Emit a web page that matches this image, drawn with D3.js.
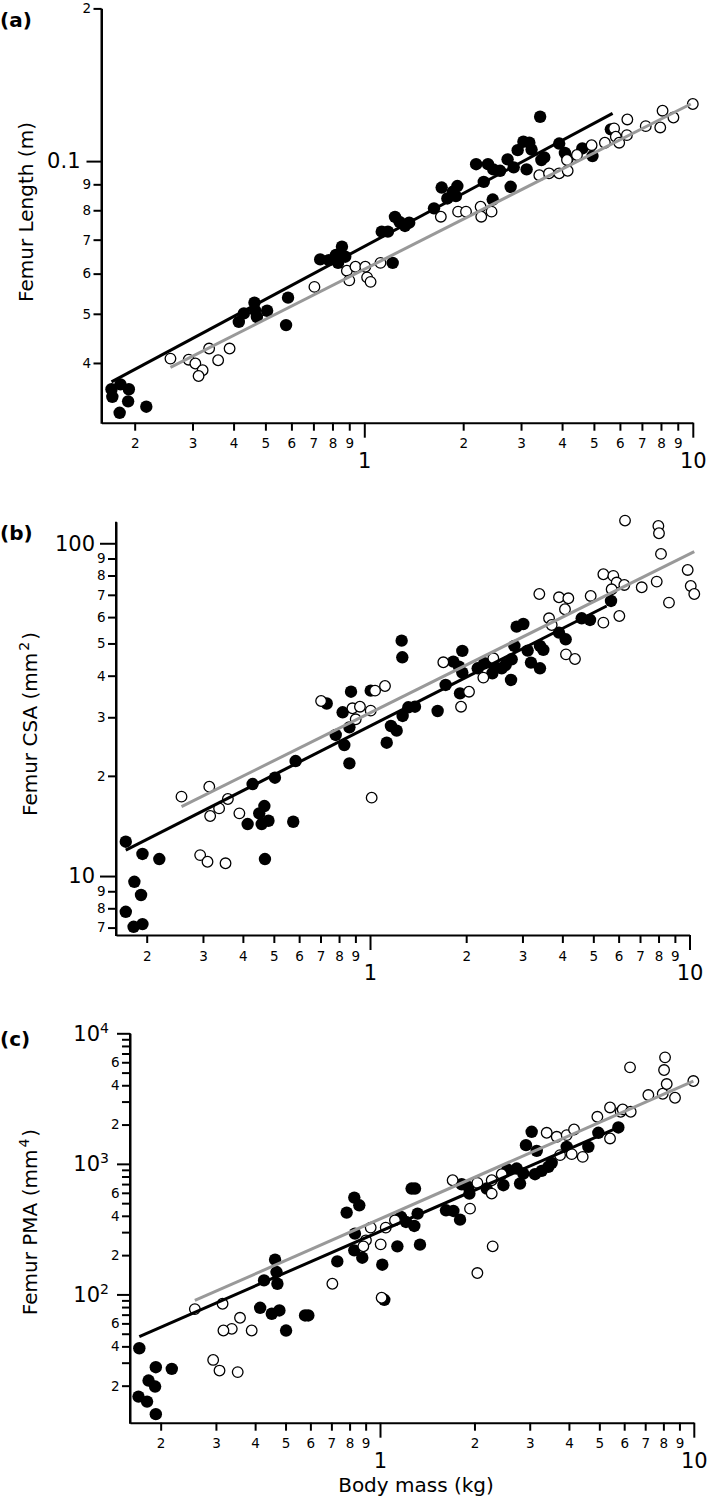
<!DOCTYPE html>
<html><head><meta charset="utf-8">
<script src="https://cdn.jsdelivr.net/npm/d3@7"></script>
<style>
body{margin:0;background:#fff}
svg{display:block}
text{font-family:"DejaVu Sans",sans-serif;fill:#000}
</style></head><body>
<svg id="chart" width="709" height="1503"></svg>
<script>
// ---------- DATA ----------
// Panel (a): Femur length (m) vs body mass (kg)
const aBlackMass = [0.170,0.171,0.181,0.192,0.191,0.180,0.217,0.415,0.430,0.463,0.465,0.471,0.506,0.586,0.578,0.734,0.780,0.820,0.855,0.832,0.875,1.13,1.18,1.22,1.24,1.28,1.33,1.37,1.63,1.72,1.79,1.86,1.92,1.90,2.19,2.31,2.38,2.47,2.59,2.46,2.73,2.79,2.85,2.93,3.05,3.18,3.23,3.12,3.46,3.53,3.43,3.92,4.08,4.16,4.61,4.95,5.63];
const aBlackLen  = [0.0355,0.0343,0.0363,0.0355,0.0336,0.0319,0.0328,0.0482,0.0501,0.0526,0.0508,0.0493,0.0507,0.0538,0.0475,0.0640,0.0638,0.0653,0.0678,0.0630,0.0648,0.0726,0.0726,0.0630,0.0776,0.0759,0.0745,0.0756,0.0807,0.0887,0.0844,0.0870,0.0893,0.0853,0.0986,0.0910,0.0986,0.0963,0.0957,0.0840,0.1008,0.0890,0.0972,0.1051,0.1092,0.1087,0.1054,0.0963,0.1005,0.1017,0.1223,0.1083,0.1038,0.1012,0.1059,0.1023,0.1155];
const aWhiteMass = [0.257,0.292,0.306,0.322,0.313,0.337,0.359,0.389,0.705,0.885,0.940,0.900,1.007,1.02,1.045,1.12,1.71,1.93,2.04,2.26,2.27,2.44,3.41,3.65,3.92,4.16,4.14,4.44,4.92,5.40,5.76,5.83,5.97,6.30,6.32,7.19,7.96,8.09,8.73,10.0];
const aWhiteLen  = [0.0408,0.0406,0.0399,0.0387,0.0377,0.0427,0.0405,0.0427,0.0565,0.0608,0.0619,0.0582,0.0619,0.0590,0.0578,0.0630,0.0777,0.0795,0.0795,0.0813,0.0777,0.0795,0.0938,0.0946,0.0946,0.0957,0.1005,0.1028,0.1075,0.1087,0.1160,0.1117,0.1087,0.1125,0.1208,0.1172,0.1165,0.1257,0.1219,0.1296];
const aBlackFitMass = [0.170, 5.70], aBlackFitLen = [0.0367, 0.1242];
const aGreyFitMass  = [0.257, 9.86], aGreyFitLen  = [0.0392, 0.1296];

// Panel (b): Femur CSA (mm^2)
const bBlackMass = [0.172,0.194,0.219,0.183,0.192,0.172,0.182,0.194,0.429,0.504,0.585,0.414,0.450,0.467,0.458,0.481,0.469,0.575,0.732,0.821,0.872,0.862,0.781,0.831,0.862,1.005,1.128,1.163,1.212,1.256,1.262,1.265,1.318,1.383,1.628,1.725,1.823,1.899,1.945,1.945,1.913,2.173,2.280,2.415,2.450,2.583,2.659,2.763,2.776,2.830,2.877,3.019,3.115,3.19,3.404,3.404,3.487,3.904,4.097,4.598,4.882,5.68];
const bBlackCSA  = [12.68,11.65,11.25,9.61,8.77,7.81,7.04,7.17,18.9,19.75,22.16,14.33,15.43,16.23,14.33,14.66,11.25,14.56,33.0,31.05,35.8,27.98,26.54,24.76,21.81,36.07,25.16,28.24,27.35,50.97,45.43,30.27,32.14,32.28,31.33,37.51,44.1,42.6,47.48,40.86,35.4,42.1,43.6,40.67,42.6,42.1,43.08,38.84,44.8,49.14,56.17,57.2,47.59,43.8,42.1,49.14,47.81,53.89,51.45,59.5,58.82,67.1];
const bWhiteMass = [0.257,0.314,0.359,0.337,0.316,0.390,0.294,0.310,0.353,0.703,0.881,0.930,0.902,1.005,1.037,1.114,1.012,1.696,2.041,1.927,2.263,2.432,3.388,3.634,3.704,3.904,4.176,4.076,4.106,4.38,4.906,5.375,5.775,5.916,6.252,5.706,5.375,6.031,7.087,7.896,7.99,8.026,8.143,6.283,8.625,9.87,10.09,10.35];
const bWhiteCSA  = [17.32,18.56,17.04,15.97,15.15,15.43,11.56,11.04,10.92,33.58,31.92,32.28,29.58,31.41,36.07,37.25,17.2,43.89,35.81,32.28,39.47,45.11,70.4,59.5,56.8,68.8,68.33,63.34,46.37,44.9,69.45,80.7,79.8,76.2,74.94,72.72,57.74,60.45,73.74,76.7,112.7,107.2,92.9,117.0,66.33,83.14,74.4,70.4];
const bBlackFitMass = [0.172, 5.505], bBlackFitCSA = [11.97, 64.8];
const bGreyFitMass  = [0.257, 10.35], bGreyFitCSA  = [16.16, 94.4];

// Panel (c): Femur PMA (mm^4)
const cBlackMass = [0.171,0.193,0.217,0.183,0.192,0.170,0.181,0.193,0.427,0.415,0.452,0.478,0.463,0.468,0.471,0.502,0.577,0.591,0.731,0.783,0.828,0.859,0.832,0.828,0.878,1.017,1.032,1.136,1.166,1.21,1.261,1.293,1.286,1.318,1.341,1.623,1.713,1.799,1.821,1.927,1.913,2.188,2.473,2.546,2.727,2.794,2.862,2.919,3.043,3.119,3.158,3.275,3.44,3.525,3.935,4.613,4.964,5.749];
const cBlackPMA  = [38.7,27.7,26.9,21.9,19.7,16.5,15.1,12.1,128.1,79.0,71.1,75.4,184.5,148.4,120.7,52.9,69.0,69.0,179.1,423.2,551.6,481.8,292.1,217.6,191.1,168.9,91.0,233.5,392.1,358.9,646.9,646.9,334.5,415.8,240.5,441,436,374,698,592,666,647,686,905,921,707,843,1391,1760,833,1258,884,948,1018,1350,1350,1729,1900];
const cWhiteMass = [0.257,0.315,0.358,0.337,0.317,0.390,0.294,0.308,0.352,0.705,0.902,0.934,0.885,1.005,1.043,1.116,1.012,1.704,1.936,2.043,2.27,2.27,2.443,3.398,3.658,3.935,4.153,4.083,4.425,3.748,4.928,5.408,5.408,5.848,5.935,6.294,7.164,6.263,7.961,8.098,8.04,8.198,8.712,9.968,2.286,2.043];
const cWhitePMA  = [77.2,84.8,66.2,54.5,52.9,52.9,31.5,26.1,25.4,120.7,259.6,324.8,233.5,241.8,324.8,369.7,94.3,749,454,715,749,592,833,1729,1612,1660,1834,1187,1131,1166,2294,1565,2705,2506,2612,2506,3365,5484,3444,6544,5231,4086,3209,4309,233.5,145.8];
const cBlackFitMass = [0.171, 5.749], cBlackFitPMA = [47.6, 1900];
const cGreyFitMass  = [0.257, 9.968], cGreyFitPMA  = [89.9, 4309];

// Tick values & labels
const xMinorTicks  = [0.2,0.3,0.4,0.5,0.6,0.7,0.8,0.9,2,3,4,5,6,7,8,9];
const xMinorLabels = ["2","3","4","5","6","7","8","9","2","3","4","5","6","7","8","9"];
const xMajorTicks  = [1, 10];
const xMajorLabels = ["1","10"];
const aYMinorTicks  = [0.2,0.09,0.08,0.07,0.06,0.05,0.04];
const aYMinorLabels = ["2","9","8","7","6","5","4"];
const aYMajorTicks  = [0.1];
const aYMajorLabels = ["0.1"];
const bYMinorTicks  = [90,80,70,60,50,40,30,20,9,8,7];
const bYMinorLabels = ["9","8","7","6","5","4","3","2","9","8","7"];
const bYMajorTicks  = [100,10];
const bYMajorLabels = ["100","10"];
const cYMinorTicks  = [9000,8000,7000,6000,5000,4000,3000,2000,900,800,700,600,500,400,300,200,90,80,70,60,50,40,30,20];
const cYMinorLabels = ["","","","6","","4","","2","","","","6","","4","","2","","","","6","","4","","2"];
const cYMajorTicks  = [10000,1000,100];
const cYMajorExp    = ["4","3","2"];

const panelLetters = ["(a)","(b)","(c)"];
const yTitles = [["Femur Length (m)",null],["Femur CSA (mm",")","2"],["Femur PMA (mm",")","4"]];
const xTitle = "Body mass (kg)";

// ---------- LAYOUT ----------
const svg = d3.select("#chart");
const panels = [
  {letter:panelLetters[0], letterY:27, left:101.5, right:692.8, top:8.4, bottom:422.7,
   xDom:[0.1585,10], yDom:[0.0305,0.2], titleX:33, titleY:212,
   black:[aBlackMass,aBlackLen], white:[aWhiteMass,aWhiteLen],
   bfit:[aBlackFitMass,aBlackFitLen], gfit:[aGreyFitMass,aGreyFitLen],
   yMinor:[aYMinorTicks,aYMinorLabels], yMajor:[aYMajorTicks,aYMajorLabels], yMajorLen:15, yMajorPad:6, title:yTitles[0]},
  {letter:panelLetters[1], letterY:540, left:116, right:689.5, top:521.7, bottom:935,
   xDom:[0.1603,10], yDom:[6.65,116.1], titleX:37, titleY:724,
   black:[bBlackMass,bBlackCSA], white:[bWhiteMass,bWhiteCSA],
   bfit:[bBlackFitMass,bBlackFitCSA], gfit:[bGreyFitMass,bGreyFitCSA],
   yMinor:[bYMinorTicks,bYMinorLabels], yMajor:[bYMajorTicks,bYMajorLabels], yMajorLen:16, yMajorPad:5, title:yTitles[1]},
  {letter:panelLetters[2], letterY:1046, left:130, right:693.8, top:1033.3, bottom:1422.7,
   xDom:[0.1597,10], yDom:[10.41,10000], titleX:37, titleY:1222,
   black:[cBlackMass,cBlackPMA], white:[cWhiteMass,cWhitePMA],
   bfit:[cBlackFitMass,cBlackFitPMA], gfit:[cGreyFitMass,cGreyFitPMA],
   yMinor:[cYMinorTicks,cYMinorLabels], yMajor:[cYMajorTicks,cYMajorExp], yMajorLen:13, yMajorPad:6, title:yTitles[2], sup:true}
];

panels.forEach(p => {
  const g = svg.append("g");
  const x = d3.scaleLog().domain(p.xDom).range([p.left, p.right]);
  const y = d3.scaleLog().domain(p.yDom).range([p.bottom, p.top]);

  // points: black dots then open circles
  g.append("g").selectAll("circle").data(p.black[0]).join("circle")
    .attr("cx", (d,i) => x(d)).attr("cy", (d,i) => y(p.black[1][i]))
    .attr("r", 6.2).attr("fill", "#000");
  g.append("g").selectAll("circle").data(p.white[0]).join("circle")
    .attr("cx", (d,i) => x(d)).attr("cy", (d,i) => y(p.white[1][i]))
    .attr("r", 5.3).attr("fill", "#fff").attr("stroke", "#000").attr("stroke-width", 1.3);

  // fitted lines
  const line = d3.line().x(d => x(d[0])).y(d => y(d[1]));
  g.append("path").datum(p.bfit[0].map((v,i)=>[v,p.bfit[1][i]])).attr("d", line)
    .attr("stroke","#000").attr("stroke-width",3).attr("fill","none");
  g.append("path").datum(p.gfit[0].map((v,i)=>[v,p.gfit[1][i]])).attr("d", line)
    .attr("stroke","#999").attr("stroke-width",3).attr("fill","none");

  // x axis
  const xa = g.append("g").attr("transform", `translate(0,${p.bottom})`)
    .call(d3.axisBottom(x).tickValues(xMinorTicks).tickFormat((d,i)=>xMinorLabels[i])
      .tickSize(8).tickSizeOuter(0).tickPadding(8));
  xa.selectAll("text").attr("font-size", 13.5);
  const xb = g.append("g").attr("transform", `translate(0,${p.bottom})`)
    .call(d3.axisBottom(x).tickValues(xMajorTicks).tickFormat((d,i)=>xMajorLabels[i])
      .tickSize(15).tickSizeOuter(0).tickPadding(15));
  xb.select(".domain").remove();
  xb.selectAll("text").attr("font-size", 21);

  // y axis
  const ya = g.append("g").attr("transform", `translate(${p.left},0)`)
    .call(d3.axisLeft(y).tickValues(p.yMinor[0]).tickFormat((d,i)=>p.yMinor[1][i])
      .tickSize(8).tickSizeOuter(0).tickPadding(2.5));
  ya.selectAll("text").attr("font-size", 13.5);
  const yb = g.append("g").attr("transform", `translate(${p.left},0)`)
    .call(d3.axisLeft(y).tickValues(p.yMajor[0]).tickFormat((d,i)=> p.sup ? "" : p.yMajor[1][i])
      .tickSize(p.yMajorLen).tickSizeOuter(0).tickPadding(p.yMajorPad));
  yb.select(".domain").remove();
  yb.selectAll("text").attr("font-size", 21);
  if (p.sup) {
    yb.selectAll("text").each(function(d,i){
      const t = d3.select(this).attr("x", -(p.yMajorLen + 8));
      t.append("tspan").text("10");
      t.append("tspan").text(p.yMajor[1][i]).attr("font-size", 14).attr("dy", "-0.55em");
    });
  }
  [xa, xb, ya, yb].forEach(a => {
    a.selectAll("line").attr("stroke-width", 2);
    a.selectAll(".domain").attr("stroke-width", 2);
    a.attr("font-family", null);
  });
  // extend y-axis line to x-axis
  g.append("line").attr("x1", p.left).attr("x2", p.left).attr("y1", p.top).attr("y2", p.bottom + 1)
    .attr("stroke", "#000").attr("stroke-width", 2);

  // panel letter
  svg.append("text").attr("x", 0).attr("y", p.letterY).attr("font-weight", "bold")
    .attr("font-size", 20).text(p.letter);

  // y title
  const tt = svg.append("text").attr("transform", `translate(${p.titleX},${p.titleY}) rotate(-90)`)
    .attr("text-anchor", "middle").attr("font-size", 20);
  tt.append("tspan").text(p.title[0]);
  if (p.title[1]) {
    tt.append("tspan").text(p.title[2]).attr("font-size", 14).attr("dy", "-0.6em").attr("dx", 2);
    tt.append("tspan").text(p.title[1]).attr("dy", "0.42em").attr("dx", 2);
  }
});

svg.append("text").attr("x", 416).attr("y", 1492).attr("text-anchor", "middle")
  .attr("font-size", 20).text(xTitle);
</script></body></html>
